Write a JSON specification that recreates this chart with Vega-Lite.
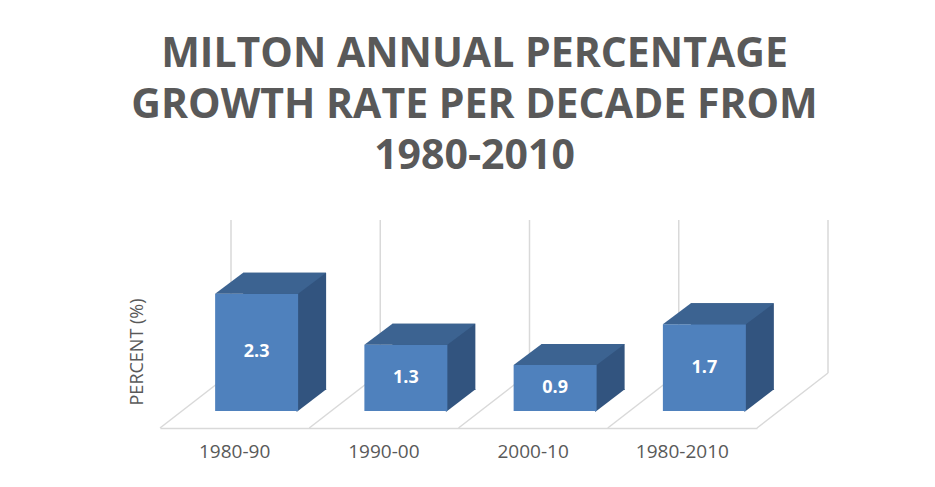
{
  "$schema": "https://vega.github.io/schema/vega-lite/v6.json",
  "width": 597,
  "height": 153,
  "autosize": {"type": "none"},
  "padding": {"left": 160, "top": 275, "right": 178, "bottom": 59},
  "background": "white",
  "data": {
    "values": [
      {"period": "1980-90", "value": 2.3},
      {"period": "1990-00", "value": 1.3},
      {"period": "2000-10", "value": 0.9},
      {"period": "1980-2010", "value": 1.7}
    ]
  },
  "title": {
    "text": ["MILTON ANNUAL PERCENTAGE", "GROWTH RATE PER DECADE FROM", "1980-2010"],
    "font": "Open Sans",
    "fontSize": 41,
    "fontWeight": "bold",
    "color": "#595959",
    "anchor": "middle",
    "frame": "group",
    "dx": 16,
    "lineHeight": 51,
    "offset": 41
  },
  "config": {
    "view": {"stroke": null},
    "axisX": {
      "domainColor": "#d9d9d9",
      "domainWidth": 1.5,
      "ticks": false,
      "grid": false,
      "labelFont": "Open Sans",
      "labelFontSize": 19,
      "labelColor": "#595959",
      "labelPadding": 14,
      "labelAngle": 0
    }
  },
  "resolve": {"scale": {"y": "independent"}},
  "layer": [
    {
      "mark": {"type": "rule", "color": "#d9d9d9", "strokeWidth": 1.5, "x2Offset": 71, "y2Offset": -55},
      "encoding": {
        "x": {"field": "period", "type": "nominal", "bandPosition": 0, "sort": ["1980-90", "1990-00", "2000-10", "1980-2010"], "scale": {"paddingInner": 0, "paddingOuter": 0}, "title": null},
        "x2": {"field": "period", "bandPosition": 0},
        "y": {"datum": 0, "type": "quantitative", "scale": {"domain": [0, 3]}, "axis": {"title": "PERCENT (%)", "domain": false, "ticks": false, "labels": false, "grid": false, "titleFont": "Open Sans", "titleFontSize": 18, "titleFontWeight": "normal", "titleColor": "#595959", "titlePadding": 14}},
        "y2": {"datum": 0}
      }
    },
    {
      "transform": [{"filter": "datum.period == '1980-2010'"}],
      "mark": {"type": "rule", "color": "#d9d9d9", "strokeWidth": 1.5, "x2Offset": 71, "y2Offset": -55},
      "encoding": {
        "x": {"field": "period", "type": "nominal", "bandPosition": 1, "sort": ["1980-90", "1990-00", "2000-10", "1980-2010"], "title": null},
        "x2": {"field": "period", "bandPosition": 1},
        "y": {"datum": 0, "type": "quantitative", "scale": {"domain": [0, 3]}, "axis": null},
        "y2": {"datum": 0}
      }
    },
    {
      "mark": {"type": "rule", "color": "#d9d9d9", "strokeWidth": 1.5, "xOffset": 71, "yOffset": -55, "y2Offset": -55},
      "encoding": {
        "x": {"field": "period", "type": "nominal", "bandPosition": 0, "sort": ["1980-90", "1990-00", "2000-10", "1980-2010"], "title": null},
        "y": {"datum": 0, "type": "quantitative", "scale": {"domain": [0, 3]}, "axis": null},
        "y2": {"datum": 3}
      }
    },
    {
      "transform": [{"filter": "datum.period == '1980-2010'"}],
      "mark": {"type": "rule", "color": "#d9d9d9", "strokeWidth": 1.5, "xOffset": 71, "yOffset": -55, "y2Offset": -55},
      "encoding": {
        "x": {"field": "period", "type": "nominal", "bandPosition": 1, "sort": ["1980-90", "1990-00", "2000-10", "1980-2010"], "title": null},
        "y": {"datum": 0, "type": "quantitative", "scale": {"domain": [0, 3]}, "axis": null},
        "y2": {"datum": 3}
      }
    },
    {
      "mark": {"type": "bar", "color": "#32547f", "width": {"band": 0.556}, "xOffset": 50, "yOffset": -38, "y2Offset": -38},
      "encoding": {
        "x": {"field": "period", "type": "nominal", "sort": ["1980-90", "1990-00", "2000-10", "1980-2010"], "title": null},
        "y": {"field": "value", "type": "quantitative", "scale": {"domain": [0, 3]}, "axis": null},
        "y2": {"datum": 0}
      }
    },
    {
      "mark": {"type": "point", "shape": "M 62 -39 L 92 -39 L 62 -16 Z", "size": 4, "filled": true, "opacity": 1, "color": "#32547f", "strokeWidth": 0},
      "encoding": {
        "x": {"field": "period", "type": "nominal", "sort": ["1980-90", "1990-00", "2000-10", "1980-2010"], "title": null},
        "y": {"datum": 0, "type": "quantitative", "scale": {"domain": [0, 3]}, "axis": null}
      }
    },
    {
      "mark": {"type": "bar", "color": "#4f81bd", "width": {"band": 0.556}, "xOffset": 22, "yOffset": -17, "y2Offset": -17},
      "encoding": {
        "x": {"field": "period", "type": "nominal", "sort": ["1980-90", "1990-00", "2000-10", "1980-2010"], "title": null},
        "y": {"field": "value", "type": "quantitative", "scale": {"domain": [0, 3]}, "axis": null},
        "y2": {"datum": 0}
      }
    },
    {
      "mark": {"type": "point", "shape": "M -19.5 -17 L 63.5 -17 L 91.5 -38 L 8.5 -38 Z", "size": 4, "filled": true, "opacity": 1, "color": "#3c6391", "strokeWidth": 0},
      "encoding": {
        "x": {"field": "period", "type": "nominal", "sort": ["1980-90", "1990-00", "2000-10", "1980-2010"], "title": null},
        "y": {"field": "value", "type": "quantitative", "scale": {"domain": [0, 3]}, "axis": null}
      }
    },
    {
      "mark": {"type": "text", "color": "white", "font": "Open Sans", "fontSize": 18, "fontWeight": "bold", "baseline": "middle", "xOffset": 22, "yOffset": -17},
      "encoding": {
        "x": {"field": "period", "type": "nominal", "sort": ["1980-90", "1990-00", "2000-10", "1980-2010"], "title": null},
        "y": {"field": "value", "type": "quantitative", "scale": {"domain": [0, 6]}, "axis": null},
        "text": {"field": "value", "type": "quantitative", "format": ".1f"}
      }
    }
  ]
}
